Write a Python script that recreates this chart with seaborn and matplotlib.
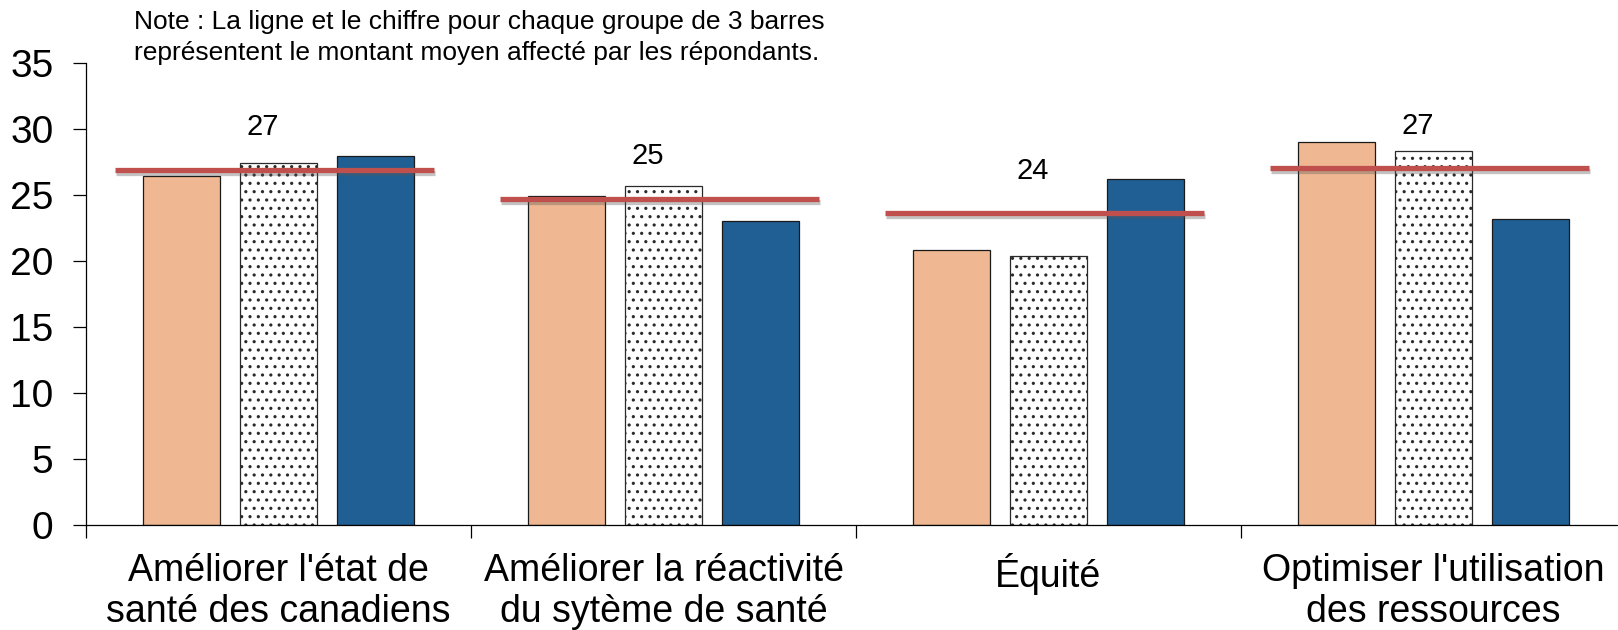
import numpy as np
import pandas as pd
import matplotlib
matplotlib.use("Agg")
import matplotlib.pyplot as plt
import matplotlib.patheffects as pe
import seaborn as sns

categories = ["Améliorer l'état de\nsanté des canadiens",
              "Améliorer la réactivité\ndu sytème de santé",
              "Équité",
              "Optimiser l'utilisation\ndes ressources"]
series_names = ["A", "B", "C"]
values_a = [26.4, 24.9, 20.8, 29.0]
values_b = [27.4, 25.7, 20.4, 28.3]
values_c = [27.9, 23.0, 26.2, 23.2]
mean_values = [26.9, 24.7, 23.6, 27.0]
mean_labels = ["27", "25", "24", "27"]
y_ticks = [0, 5, 10, 15, 20, 25, 30, 35]
note = ("Note : La ligne et le chiffre pour chaque groupe de 3 barres\n"
        "représentent le montant moyen affecté par les répondants.")

sns.set_theme(style="white")
plt.rcParams["font.family"] = ["Liberation Sans", "DejaVu Sans"]
plt.rcParams["hatch.linewidth"] = 1.1
plt.rcParams["text.color"] = "black"

df = pd.DataFrame({
    "cat": np.repeat(categories, 3),
    "series": series_names * len(categories),
    "val": [v for trio in zip(values_a, values_b, values_c) for v in trio],
})

W, H = 1618, 630
fig = plt.figure(figsize=(W / 100, H / 100), dpi=100)
ax = fig.add_axes([86 / W, 105 / H, 1540 / W, 462.3 / H])

sns.barplot(data=df, x="cat", y="val", hue="series", order=categories,
            hue_order=series_names,
            palette=["#EFB892", "#FFFFFF", "#205F93"], saturation=1,
            width=0.756, gap=0.2, edgecolor="#1a1a1a", linewidth=0.9,
            legend=False, ax=ax, errorbar=None)

# dotted pattern for the middle series
for bar in ax.containers[1]:
    bar.set_hatch("..")
    bar.set_edgecolor("#2a2a2a")

for i, (m, lab) in enumerate(zip(mean_values, mean_labels)):
    ax.hlines(m, i - 0.425, i + 0.405, color="#C0504D", lw=3.8, zorder=5,
              path_effects=[pe.SimpleLineShadow(offset=(0.5, -2.2),
                                                shadow_color="#555555",
                                                alpha=0.35),
                            pe.Normal()])
    ax.text(i - 0.04, m + 3.2, lab, ha="center", va="center",
            fontsize=21, color="black")

ax.set_xlim(-0.5, 3.5)
ax.set_ylim(0, 35)
ax.set_yticks(y_ticks)
ax.set_ylabel("")
ax.set_xlabel("")

sns.despine(ax=ax, top=True, right=True)
for s in ["left", "bottom"]:
    ax.spines[s].set_color("black")
    ax.spines[s].set_linewidth(0.9)

ax.tick_params(axis="y", which="major", direction="out", length=9.5,
               width=0.9, color="black", labelsize=28, pad=14, left=True,
               labelcolor="black")
ax.set_xticks(range(len(categories)))
ax.set_xticklabels(categories, fontsize=27)
ax.tick_params(axis="x", which="major", length=0, pad=20, labelsize=27,
               labelcolor="black")
ax.set_xticks([-0.5, 0.5, 1.5, 2.5, 3.5], minor=True)
ax.tick_params(axis="x", which="minor", direction="out", length=9,
               width=0.9, color="black", bottom=True)
for t in ax.get_xticklabels():
    t.set_linespacing(1.18)

fig.text(134 / W, 1 - 10 / H, note, ha="left", va="top", fontsize=19,
         linespacing=1.36, color="black")

fig.savefig("out.png", dpi=100)
